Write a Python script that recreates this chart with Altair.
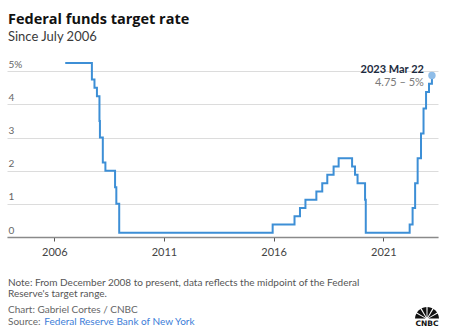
import altair as alt
import pandas as pd
import math

# ---- data ----
change_dates = ["2006-07-01", "2007-09-18", "2007-10-31", "2007-12-11", "2008-01-22",
                "2008-01-30", "2008-03-18", "2008-04-30", "2008-10-08", "2008-10-29",
                "2008-12-16", "2015-12-16", "2016-12-14", "2017-03-15", "2017-06-14",
                "2017-12-13", "2018-03-21", "2018-06-13", "2018-09-26", "2018-12-19",
                "2019-07-31", "2019-09-18", "2019-10-30", "2020-03-03", "2020-03-15",
                "2022-03-16", "2022-05-04", "2022-06-15", "2022-07-27", "2022-09-21",
                "2022-11-02", "2022-12-14", "2023-02-01", "2023-03-22"]
rates = [5.25, 4.75, 4.50, 4.25, 3.50,
         3.00, 2.25, 2.00, 1.50, 1.00,
         0.125, 0.375, 0.625, 0.875, 1.125,
         1.375, 1.625, 1.875, 2.125, 2.375,
         2.125, 1.875, 1.625, 1.125, 0.125,
         0.375, 0.875, 1.625, 2.375, 3.125,
         3.875, 4.375, 4.625, 4.875]
year_ticks = [2006, 2011, 2016, 2021]
y_ticks = [0, 1, 2, 3, 4, 5]
last_label = ["2023 Mar 22"]
last_range = ["4.75 – 5%"]

title_text = "Federal funds target rate"
subtitle_text = "Since July 2006"
note_lines = ["Note: From December 2008 to present, data reflects the midpoint of the Federal",
              "Reserve's target range."]
credit_text = "Chart: Gabriel Cortes / CNBC"
source_label = "Source:"
source_text = "Federal Reserve Bank of New York"

FONT = "Lato"
df = pd.DataFrame({"date": change_dates, "rate": rates})
last = pd.DataFrame({"date": [change_dates[-1]], "rate": [rates[-1]],
                     "lab": last_label, "rng": last_range})

x_scale = alt.Scale(domain=["2003-11-04", "2023-07-01"])
y_scale = alt.Scale(domain=[0, 5.25], nice=False, zero=True)

xenc = alt.X("date:T", scale=x_scale,
             axis=alt.Axis(values=[alt.DateTime(year=y, month=1, date=1) for y in year_ticks],
                           format="%Y", title=None, grid=False,
                           domainColor="#8a8a8a", domainWidth=1.5,
                           tickColor="#555555", tickSize=4, tickWidth=1,
                           labelPadding=5, labelFontSize=11, labelColor="#444444",
                           labelFont=FONT))
yenc = alt.Y("rate:Q", scale=y_scale,
             axis=alt.Axis(values=y_ticks, title=None, domain=False, ticks=False, tickSize=0,
                           labelAlign="left", labelBaseline="alphabetic", labelOffset=-4,
                           labelPadding=-1, labelFontSize=10, labelColor="#666666",
                           labelFont=FONT, gridColor="#dcdcdc", gridWidth=1,
                           labelOverlap=False,
                           labelExpr="datum.value == 5 ? '5%' : datum.label"))

line = alt.Chart(df).mark_line(interpolate="step-after", color="#3d8fd6",
                               strokeWidth=2).encode(x=xenc, y=yenc)

point = alt.Chart(last).mark_circle(size=55, color="#8fbde8", opacity=1).encode(
    x=xenc, y=yenc)

lab1 = alt.Chart(last).mark_text(align="right", baseline="middle", dx=-8, dy=-5,
                                 font=FONT, fontSize=11, fontWeight="bold",
                                 color="#1c2b40").encode(x=xenc, y=yenc, text="lab:N")
lab2 = alt.Chart(last).mark_text(align="right", baseline="middle", dx=-8, dy=7.5,
                                 font=FONT, fontSize=11,
                                 color="#7a7a7a").encode(x=xenc, y=yenc, text="rng:N")


def txt(s, x, y, size, color, weight="normal", font=FONT):
    return alt.Chart(pd.DataFrame({"t": [s]})).mark_text(
        align="left", baseline="alphabetic", font=font, fontSize=size,
        fontWeight=weight, color=color).encode(
        x=alt.value(x), y=alt.value(y), text="t:N")


texts = [
    txt(title_text, 1, -39, 14.5, "#111111", "bold", "Open Sans"),
    txt(subtitle_text, 1, -22.3, 13, "#3a3a3a"),
    txt(note_lines[0], 1, 223, 10, "#555555"),
    txt(note_lines[1], 1, 234, 10, "#555555"),
    txt(credit_text, 1, 250.3, 10, "#666666"),
    txt(source_label, 1, 262.3, 10, "#666666"),
    txt(source_text, 37.3, 262.3, 10, "#3b7dd8"),
]

# CNBC peacock logo (decoration)
feathers = pd.DataFrame({
    "t0": [1.5 * math.pi + i * math.pi / 6 for i in range(6)],
    "t1": [1.5 * math.pi + (i + 1) * math.pi / 6 for i in range(6)],
})
logo = alt.Chart(feathers).mark_arc(radius=12, innerRadius=1.5, padAngle=0.1,
                                    color="#111111").encode(
    theta=alt.Theta("t0:Q", scale=None), theta2="t1:Q",
    x=alt.value(420), y=alt.value(256))
logo_txt = alt.Chart(pd.DataFrame({"t": ["CNBC"]})).mark_text(
    align="center", baseline="alphabetic", font="DejaVu Sans", fontSize=7.5,
    fontWeight="bold", color="#111111").encode(x=alt.value(420), y=alt.value(263),
                                               text="t:N")

chart = alt.layer(line, point, lab1, lab2, *texts, logo, logo_txt).properties(
    width=431, height=174,
    autosize=alt.AutoSizeParams(type="none"),
    padding={"left": 7, "top": 63, "right": 17, "bottom": 98},
    background="white",
).configure_view(stroke=None)

chart.save("out.html", embed_options={"renderer": "svg", "actions": False})
